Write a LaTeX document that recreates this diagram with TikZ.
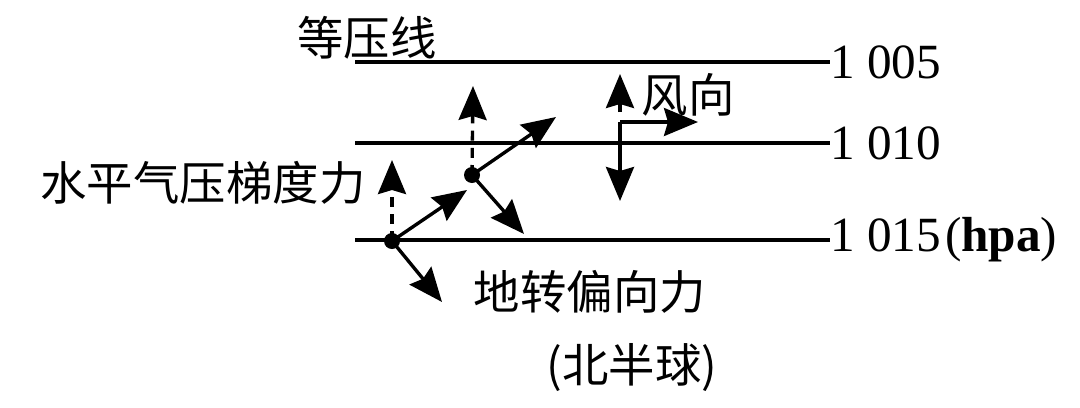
\documentclass[tikz,border=0pt]{standalone}
\usepackage{fontspec}
\setmainfont{Liberation Serif}
\newfontfamily\cjk{Noto Sans CJK SC}
\usepackage{tikz}
\usetikzlibrary{arrows, arrows.meta}
\tikzset{isobar/.style = {line width = 2.4pt}}
\tikzset{dot/.style = {shape = circle, fill, inner sep = 0pt, minimum size = 0.4cm}}
\tikzset{force/.style = {line width = 2.4pt, -{Stealth[length = 0.85cm, width = 0.7cm, inset = 0.1cm]}}}
\tikzset{grad/.style = {force, dash pattern = on 0.25cm off 0.18cm}}
\tikzset{cntext/.style = {font = \cjk\fontsize{33}{38}\selectfont, inner sep = 0pt}}
\tikzset{numtext/.style = {font = \fontsize{35}{40}\selectfont, inner sep = 0pt, anchor = west}}

\begin{document}
\begin{tikzpicture}[x = 0.025cm, y = -0.025cm]
				\useasboundingbox (0, 0) rectangle (1080, 408);

				% isobars
				\node[numtext] (p1) at (830, 62) {1 005};
				\node[numtext] (p2) at (830, 143) {1 010};
				\node[numtext] (p3) at (830, 240) {1 015\kern3pt(\textbf{hpa})};
				\coordinate (l1) at (355, 62);
				\coordinate (l2) at (355, 143);
				\coordinate (l3) at (355, 240);
				\draw[isobar] (l1) -- (p1.west);
				\draw[isobar] (l2) -- (p2.west);
				\draw[isobar] (l3) -- (p3.west |- l3);

				% texts
				\node[cntext] (iso) at (367, 38) {等压线};
				\node[cntext] (pgf) at (203, 183) {水平气压梯度力};
				\node[cntext] (cor) at (590, 292) {地转偏向力};
				\node[cntext] (hem) at (632, 368) {(北半球)};
				\node[cntext] (wind) at (688, 95) {风向};

				% air parcel
				\node[dot] (a) at (392, 241) {};
				\node[dot] (b) at (472, 175) {};
				\coordinate (a1) at (392, 160);
				\coordinate (a2) at (467, 190);
				\coordinate (a3) at (442, 302);
				\coordinate (b1) at (473, 86);
				\coordinate (b2) at (556, 117);
				\coordinate (b3) at (524, 234);

				\draw[grad] (a.center) -- (a1);
				\draw[force] (a.center) -- (a2);
				\draw[force] (a.center) -- (a3);
				\draw[grad] (b.center) -- (b1);
				\draw[force] (b.center) -- (b2);
				\draw[force] (b.center) -- (b3);

				% legend
				\coordinate (w) at (620, 122);
				\coordinate (w0) at (620, 112);
				\coordinate (w1) at (620, 74);
				\coordinate (w2) at (698, 122);
				\coordinate (w3) at (620, 201);
				\draw[grad] (w0) -- (w1);
				\draw[force] (w) -- (w2);
				\draw[force] (w) -- (w3);
			\end{tikzpicture}
\end{document}
